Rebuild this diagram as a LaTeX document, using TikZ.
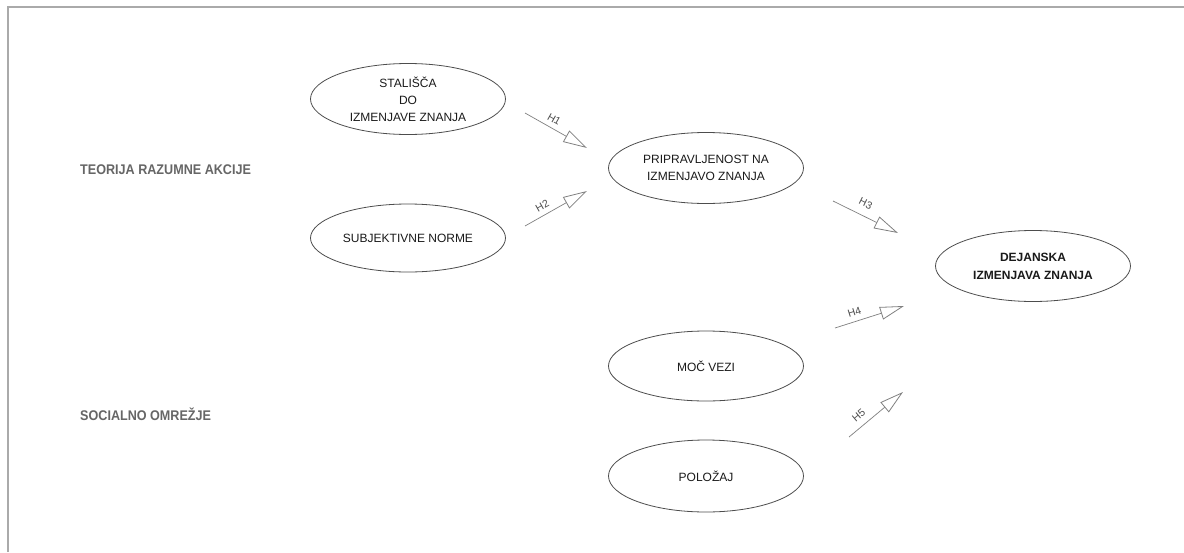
\documentclass[tikz,border=0pt]{standalone}
\usepackage{fontspec}
\setmainfont{Liberation Sans}
\newfontfamily\groupfont[FakeStretch=0.9]{Liberation Sans}
\usetikzlibrary{shapes.geometric,arrows.meta}
\definecolor{framegray}{HTML}{AAAAAA}
\definecolor{edgegray}{HTML}{4D4D4D}
\definecolor{linkgray}{HTML}{808080}
\definecolor{textdark}{HTML}{1A1A1A}
\definecolor{groupgray}{HTML}{666666}
\definecolor{hgray}{HTML}{4D4D4D}
\begin{document}
\begin{tikzpicture}[x=1pt,y=-1pt,
  construct/.style={draw=edgegray, line width=0.8pt, ellipse, inner sep=0pt,
    minimum width=195pt, minimum height=71pt, align=center, text=textdark,
    font=\fontsize{12}{17}\selectfont},
  group/.style={anchor=west, text=groupgray, inner sep=0pt,
    font=\groupfont\bfseries\fontsize{14}{16}\selectfont},
  hypo/.style={draw=linkgray, line width=0.7pt,
    -{Triangle[open, length=24pt, width=13pt, line width=0.8pt]}},
  hlabel/.style={sloped, text=hgray, inner sep=0pt, font=\fontsize{10.5}{12}\selectfont}]
\useasboundingbox (0,0) rectangle (1184,552);
\fill[white] (0,0) rectangle (1184,552);

% frame edges
\draw[framegray, line width=2pt] (8,552) -- (8,7) -- (1184,7);

% group headings
\node[group] (tra) at (80,170) {TEORIJA RAZUMNE AKCIJE};
\node[group] (so) at (80,414) {SOCIALNO OMREŽJE};

% constructs
\node[construct] (att) at (408,99) {STALIŠČA\\DO\\IZMENJAVE ZNANJA};
\node[construct, minimum height=68pt] (sn) at (408,238) {SUBJEKTIVNE NORME};
\node[construct] (will) at (706,168) {PRIPRAVLJENOST NA\\IZMENJAVO ZNANJA};
\node[construct, font=\bfseries\fontsize{12}{18}\selectfont] (act) at (1033,266) {DEJANSKA\\IZMENJAVA ZNANJA};
\node[construct, minimum height=70pt] (tie) at (706,366) {MOČ VEZI};
\node[construct, minimum height=72pt] (pos) at (706,476) {POLOŽAJ};

% hypothesis arrows
\coordinate (h1s) at (525,113);  \coordinate (h1e) at (587,148);
\coordinate (h2s) at (525,226);  \coordinate (h2e) at (587,191);
\coordinate (h3s) at (833,201);  \coordinate (h3e) at (898,233);
\coordinate (h4s) at (835,328);  \coordinate (h4e) at (904,306);
\coordinate (h5s) at (849,437);  \coordinate (h5e) at (903,392);

\draw[hypo] (h1s) -- node[hlabel, pos=0.40, above=5pt] (l1) {H1} (h1e);
\draw[hypo] (h2s) -- node[hlabel, pos=0.35, above=5pt] (l2) {H2} (h2e);
\draw[hypo] (h3s) -- node[hlabel, pos=0.42, above=8pt] (l3) {H3} (h3e);
\draw[hypo] (h4s) -- node[hlabel, pos=0.32, above=5pt] (l4) {H4} (h4e);
\draw[hypo] (h5s) -- node[hlabel, pos=0.30, above=6pt] (l5) {H5} (h5e);
\end{tikzpicture}
\end{document}
